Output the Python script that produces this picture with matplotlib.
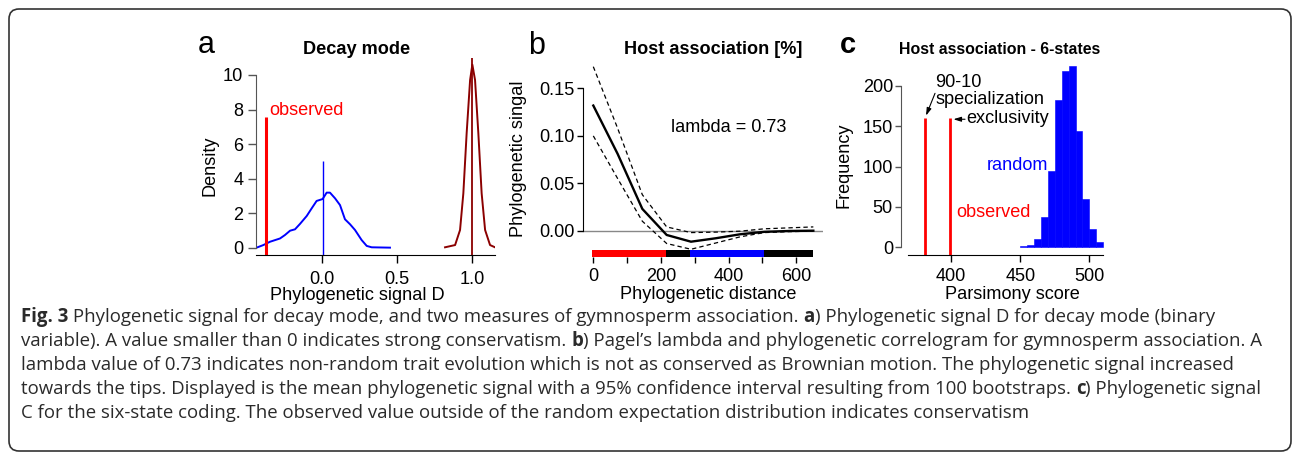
import matplotlib
matplotlib.use("Agg")
import matplotlib.pyplot as plt
from matplotlib.patches import FancyBboxPatch
from matplotlib import font_manager

W, H = 1295, 457
DPI = 100

# ---------------- Panel a: Decay mode (phylogenetic signal D) ----------------
random_D = [-0.442, -0.391, -0.347, -0.280, -0.247, -0.213, -0.180, -0.147, -0.102,
            -0.069, -0.036, 0.004, 0.031, 0.053, 0.087, 0.120, 0.153, 0.187, 0.220,
            0.264, 0.298, 0.331, 0.453]
random_density = [0.00, 0.17, 0.36, 0.55, 0.75, 1.00, 1.08, 1.39, 1.85,
                  2.29, 2.72, 2.83, 3.20, 3.20, 2.87, 2.48, 1.66, 1.37, 1.04,
                  0.46, 0.12, 0.04, 0.02]
brownian_D = [0.820, 0.887, 0.920, 0.942, 0.964, 0.987, 1.002, 1.020, 1.042,
              1.064, 1.087, 1.120, 1.153]
brownian_density = [0.04, 0.17, 1.04, 3.16, 6.63, 9.71, 10.60, 9.71, 6.63,
                    3.16, 1.04, 0.17, 0.04]
observed_D = -0.375
observed_D_height = 7.6
random_mean_D = 0.005
random_mean_height = 5.0
brownian_mean_D = 1.0
brownian_mean_height = 11.0
a_xticks = [0.0, 0.5, 1.0]
a_xticklabels = ["0.0", "0.5", "1.0"]
a_yticks = [0, 2, 4, 6, 8, 10]

# ---------------- Panel b: Host association [%] (correlogram) ----------------
distance = [0, 72, 145, 217, 289, 362, 434, 506, 579, 651]
signal_mean = [0.132, 0.081, 0.023, -0.0045, -0.0116, -0.008, -0.0038, -0.0012, -0.0003, 0.0]
signal_upper = [0.173, 0.108, 0.038, 0.004, -0.002, -0.0015, -0.0005, 0.002, 0.003, 0.004]
signal_lower = [0.100, 0.055, 0.010, -0.0135, -0.0196, -0.013, -0.0065, -0.002, -0.001, -0.0005]
signif_breaks = [-5, 214, 286, 506, 651]
signif_colors = ["#ff0000", "#000000", "#0000ff", "#000000"]
lambda_value = 0.73
b_xticks = [0, 100, 200, 300, 400, 500, 600]
b_xticklabels = ["0", "", "200", "", "400", "", "600"]
b_yticks = [0.00, 0.05, 0.10, 0.15]
b_yticklabels = ["0.00", "0.05", "0.10", "0.15"]

# ---------------- Panel c: Host association - 6-states ----------------
bin_edges = [450, 455, 460, 465, 470, 475, 480, 485, 490, 495, 500, 505, 510]
bin_counts = [2, 3, 10, 37, 95, 182, 218, 225, 144, 60, 23, 6]
observed_scores = [381.5, 399.5]
observed_score_height = 160
c_xticks = [400, 450, 500]
c_yticks = [0, 50, 100, 150, 200]

# ---------------- caption ----------------
caption_lines = [
    [("Fig. 3", True),
     (" Phylogenetic signal for decay mode, and two measures of gymnosperm association. ", False),
     ("a", True), (") Phylogenetic signal D for decay mode (binary", False)],
    [("variable). A value smaller than 0 indicates strong conservatism. ", False),
     ("b", True),
     (") Pagel\u2019s lambda and phylogenetic correlogram for gymnosperm association. A", False)],
    [("lambda value of 0.73 indicates non-random trait evolution which is not as conserved "
      "as Brownian motion. The phylogenetic signal increased", False)],
    [("towards the tips. Displayed is the mean phylogenetic signal with a 95% confidence "
      "interval resulting from 100 bootstraps. ", False),
     ("c", True), (") Phylogenetic signal", False)],
    [("C for the six-state coding. The observed value outside of the random expectation "
      "distribution indicates conservatism", False)],
]

# ============================================================================
plt.rcParams["font.family"] = ["Liberation Sans", "DejaVu Sans"]
FS = 13.1
AXGRAY = "#555555"


def has_bold(fam):
    names = [f for f in font_manager.fontManager.ttflist if f.name == fam]
    weights = []
    for f in names:
        w = f.weight
        if isinstance(w, str):
            w = 700 if "bold" in w.lower() else 400
        weights.append(w)
    return any(w >= 600 for w in weights) and any(w < 600 for w in weights)


CAP_FAM = "Liberation Sans"
for fam in ["Open Sans", "Noto Sans", "Lato"]:
    if has_bold(fam):
        CAP_FAM = fam
        break
CAP_FONT = [CAP_FAM, "DejaVu Sans"]
CAP_COLOR = "#2a2a2a"

fig = plt.figure(figsize=(W / DPI, H / DPI), dpi=DPI, facecolor="white")

bg = fig.add_axes([0, 0, 1, 1], zorder=-5)
bg.set_xlim(0, W)
bg.set_ylim(H, 0)
bg.axis("off")
bg.add_patch(FancyBboxPatch((9, 9), 1282, 442,
                            boxstyle="round,pad=0,rounding_size=10",
                            fill=False, ec="#333333", lw=1.2))


def px_rect(L, T, R, B):
    return [L / W, 1 - B / H, (R - L) / W, (B - T) / H]


def pt(px):
    return px * 72.0 / DPI


# ---------------- panel a ----------------
axa = fig.add_axes(px_rect(256, 50, 495, 255))
axa.set_facecolor("none")
axa.set_xlim(-0.44, 1.153)
axa.set_ylim(-0.405, 11.445)
axa.plot(random_D, random_density, color="#0000ff", lw=1.4)
axa.plot(brownian_D, brownian_density, color="#8b0000", lw=1.4)
ylo = axa.get_ylim()[0]
axa.vlines([observed_D], ylo, [observed_D_height], color="#ff0000", lw=2.2)
axa.vlines([random_mean_D], ylo, [random_mean_height], color="#0000ff", lw=1.0)
axa.vlines([brownian_mean_D], ylo, [brownian_mean_height], color="#8b0000", lw=1.3)
for s in ("top", "right"):
    axa.spines[s].set_visible(False)
axa.spines["left"].set_bounds(0, 10)
axa.spines["left"].set_color(AXGRAY)
axa.set_xticks(a_xticks)
axa.set_xticklabels(a_xticklabels)
axa.set_yticks(a_yticks)
axa.tick_params(axis="x", length=pt(8), width=1, pad=6.0, labelsize=FS)
axa.tick_params(axis="y", length=pt(8), width=1, pad=3.4, labelsize=FS, color=AXGRAY)
axa.set_xlabel("Phylogenetic signal D", fontsize=FS, va="baseline")
axa.xaxis.set_label_coords(357.5, 300, transform=bg.transData)
axa.set_ylabel("Density", fontsize=FS, va="baseline")
axa.yaxis.set_label_coords(214, 166, transform=bg.transData)

# ---------------- panel b ----------------
axb = fig.add_axes(px_rect(583, 50, 823, 256.7))
axb.set_facecolor("none")
axb.set_xlim(-30.5, 679.6)
axb.set_ylim(-0.02743, 0.1906)
axb.axhline(0, color="#888888", lw=1.0)
axb.plot(distance, signal_upper, color="black", lw=0.9, ls=(0, (3.5, 2.5)))
axb.plot(distance, signal_lower, color="black", lw=0.9, ls=(0, (3.5, 2.5)))
axb.plot(distance, signal_mean, color="black", lw=1.7)
xt = axb.get_xaxis_transform()
bar_h = (256.7 - 250.0) / (256.7 - 50.0)
for i, col in enumerate(signif_colors):
    axb.fill_between([signif_breaks[i], signif_breaks[i + 1]], 0, bar_h,
                     transform=xt, color=col, lw=0, clip_on=False)
for s in ("top", "right", "bottom"):
    axb.spines[s].set_visible(False)
axb.spines["left"].set_bounds(0, 0.15)
axb.set_xticks(b_xticks)
axb.set_xticklabels(b_xticklabels)
axb.set_yticks(b_yticks)
axb.set_yticklabels(b_yticklabels)
axb.tick_params(axis="x", length=pt(6), width=1, pad=4, labelsize=FS)
axb.tick_params(axis="y", length=pt(6), width=1, pad=1.5, labelsize=FS)
axb.set_xlabel("Phylogenetic distance", fontsize=FS, va="baseline")
axb.xaxis.set_label_coords(708, 299, transform=bg.transData)
axb.set_ylabel("Phylogenetic singal", fontsize=FS, va="baseline")
axb.yaxis.set_label_coords(523, 159, transform=bg.transData)

# ---------------- panel c ----------------
axc = fig.add_axes(px_rect(901, 50, 1104, 255))
axc.set_facecolor("none")
axc.set_xlim(363.8, 510.6)
axc.set_ylim(-9.5, 244.2)
axc.bar(bin_edges[:-1], bin_counts, width=5, align="edge",
        color="#0000ff", edgecolor="#0000ff", lw=0.4)
yloc = axc.get_ylim()[0]
axc.vlines(observed_scores, yloc, observed_score_height, color="#ff0000", lw=2.0)
for s in ("top", "right"):
    axc.spines[s].set_visible(False)
axc.spines["left"].set_bounds(0, 200)
axc.spines["left"].set_color(AXGRAY)
axc.spines["bottom"].set_bounds(369, 510)
axc.set_xticks(c_xticks)
axc.set_yticks(c_yticks)
axc.tick_params(axis="x", length=pt(7), width=1, pad=4, labelsize=FS)
axc.tick_params(axis="y", length=pt(6), width=1, pad=1.5, labelsize=FS, color=AXGRAY)
axc.set_xlabel("Parsimony score", fontsize=FS, va="baseline")
axc.xaxis.set_label_coords(1012.5, 299, transform=bg.transData)
axc.set_ylabel("Frequency", fontsize=FS, va="baseline")
axc.yaxis.set_label_coords(849, 165, transform=bg.transData)

arrow_kw = dict(arrowstyle="-|>,head_length=0.45,head_width=0.14", color="black",
                lw=0.8, shrinkA=0, shrinkB=0)
axc.annotate("", xy=(observed_scores[0] + 0.4, observed_score_height + 3),
             xytext=(388.4, 190.6), arrowprops=arrow_kw)
axc.annotate("", xy=(observed_scores[1] + 2.2, observed_score_height - 1.5),
             xytext=(410.1, observed_score_height - 1.5), arrowprops=arrow_kw)

# ---------------- texts in pixel space ----------------
bg.text(206, 53, "a", fontsize=22, ha="center", va="baseline")
bg.text(537, 54, "b", fontsize=22, ha="center", va="baseline")
bg.text(848, 53, "c", fontsize=21, ha="center", va="baseline", fontweight="bold")
bg.text(357, 54.3, "Decay mode", fontsize=FS, fontweight="bold", ha="center", va="baseline")
bg.text(713.5, 54.3, "Host association [%]", fontsize=FS, fontweight="bold",
        ha="center", va="baseline")
bg.text(1000, 54.3, "Host association - 6-states", fontsize=11.4, fontweight="bold",
        ha="center", va="baseline")
bg.text(269.5, 115, "observed", fontsize=FS, color="#ff0000", ha="left", va="baseline")
bg.text(671, 131.7, f"lambda = {lambda_value}", fontsize=FS, ha="left", va="baseline")
bg.text(935, 103.8, "90-10\nspecialization", fontsize=FS, ha="left", va="baseline",
        multialignment="left", linespacing=0.96)
bg.text(966.5, 123.3, "exclusivity", fontsize=FS, ha="left", va="baseline")
bg.text(1048.5, 170, "random", fontsize=FS, color="#0000ff", ha="right", va="baseline")
bg.text(956, 216.7, "observed", fontsize=FS, color="#ff0000", ha="left", va="baseline")

# ---------------- caption ----------------
renderer = fig.canvas.get_renderer()


def run_width(s, size, bold):
    kw = dict(fontsize=size, family=CAP_FONT, fontweight="bold" if bold else "normal")
    t = bg.text(0, 0, "|" + s + "|", **kw)
    w1 = t.get_window_extent(renderer).width
    t.set_text("||")
    w0 = t.get_window_extent(renderer).width
    t.remove()
    return w1 - w0


base = 10.0
w_line2 = sum(run_width(s, base, b) for s, b in caption_lines[1])
cap_size = base * (1264 - 21) / w_line2

baselines = [322, 346, 370, 394, 418]
for runs, yb in zip(caption_lines, baselines):
    x = 21.0
    for s, b in runs:
        bg.text(x, yb, s, fontsize=cap_size, family=CAP_FONT, color=CAP_COLOR,
                fontweight="bold" if b else "normal", ha="left", va="baseline")
        x += run_width(s, cap_size, b)

fig.savefig("out.png", dpi=DPI, facecolor="white")
